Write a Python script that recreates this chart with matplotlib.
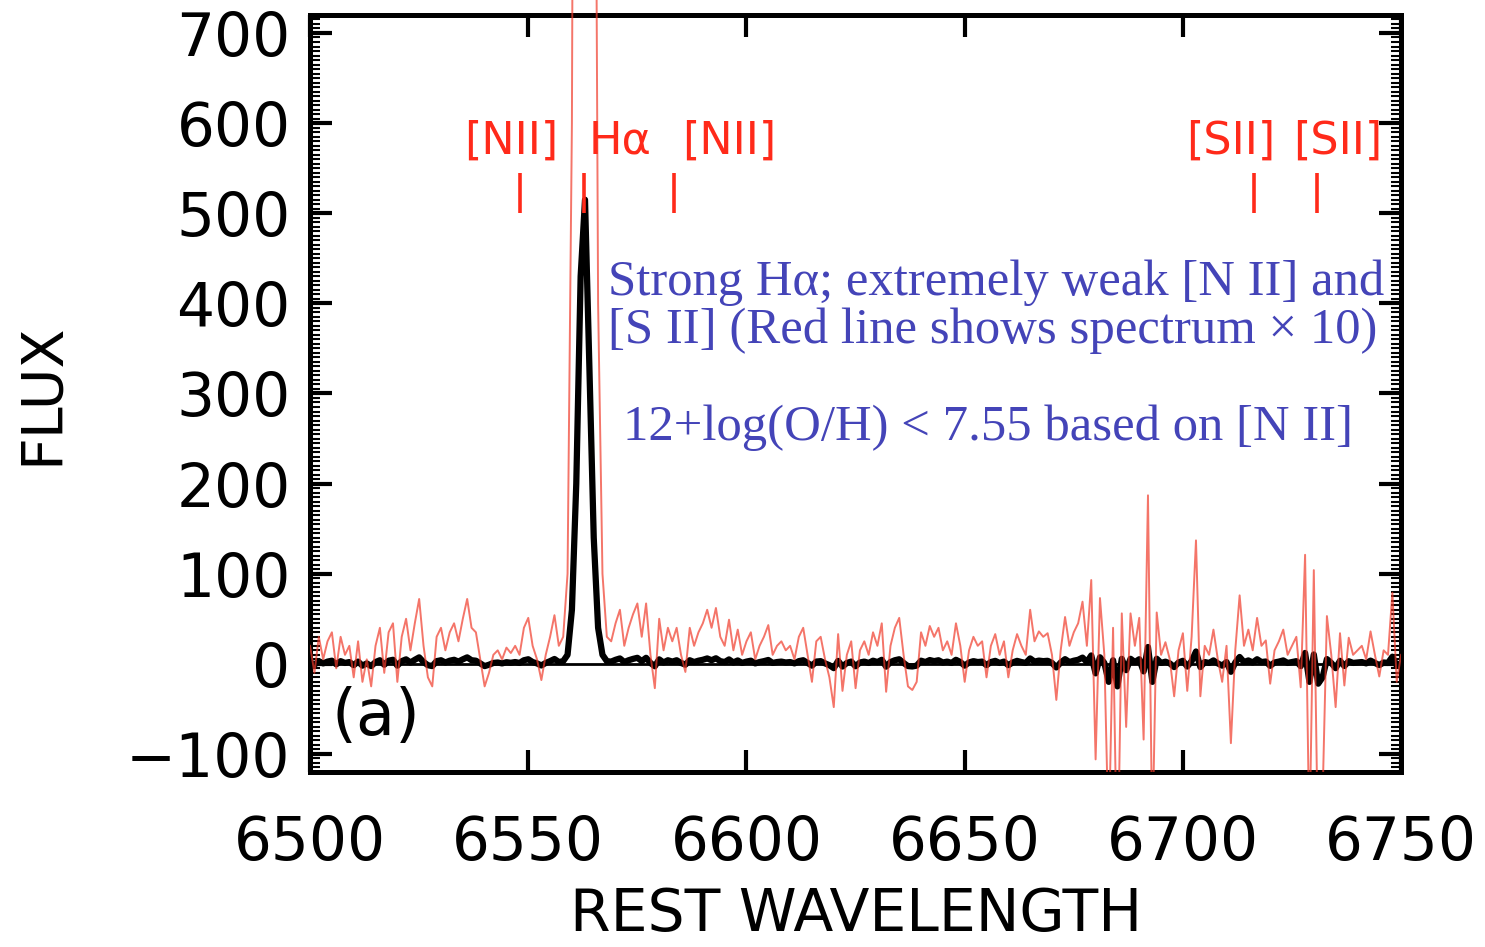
import numpy as np
import matplotlib
matplotlib.use("Agg")
import matplotlib.pyplot as plt
from matplotlib.patches import Rectangle
from matplotlib.ticker import MultipleLocator

# rest wavelength grid, 1 A steps
wave = np.arange(6500, 6751)

# flux (black); red line is flux x 10
flux = np.array([
    2.0, -1.0, 3.0, 0.5, 2.5, 3.5, -0.5, 3.0, 1.0, 2.0,        # 6500
    -1.5, 2.5, -2.0, 0.5, -2.5, 2.0, 4.0, -1.0, 3.5, 4.5,      # 6510
    -2.0, 3.0, 5.0, 1.5, 4.5, 7.2, 2.0, -1.5, -2.5, 3.0,       # 6520
    4.0, 1.5, 3.5, 4.5, 2.5, 5.0, 7.2, 4.0, 3.5, 0.5,          # 6530
    -2.5, -1.0, 1.0, 1.5, 0.5, 1.8, 1.2, 2.0, 1.0, 4.0,        # 6540
    5.1, 2.0, 0.5, -1.8, 1.0, 3.0, 5.4, 2.0, 3.0, 10.0,        # 6550
    60.0, 200.0, 430.0, 515.0, 330.0, 140.0, 40.0, 10.0, 3.0, 2.5,  # 6560
    4.5, 6.0, 2.0, 4.0, 5.5, 6.7, 3.0, 6.7, 1.0, -2.7,         # 6570
    5.0, 1.5, 4.0, 2.5, 4.0, 1.0, -0.9, 4.0, 2.0, 3.5,         # 6580
    4.5, 6.0, 4.0, 6.2, 3.0, 2.0, 4.9, 1.5, 3.8, 1.0,          # 6590
    2.5, 3.5, 0.5, 2.0, 3.0, 4.3, 1.0, 2.0, 2.5, 1.5,          # 6600
    2.0, 0.5, 3.0, 4.0, 1.0, -2.0, 2.5, 3.0, 0.5, -1.5,        # 6610
    -4.8, 3.3, -3.0, 1.0, 2.5, -2.7, 1.5, 2.5, 1.0, 3.5,       # 6620
    2.0, 4.5, -3.1, 2.0, 4.0, 5.1, 1.0, -2.5, -2.9, -2.0,      # 6630
    3.5, 2.0, 4.2, 3.0, 4.0, 1.5, 2.5, 1.0, 4.5, 2.0,          # 6640
    -2.0, 1.5, 3.0, 2.0, 2.5, -1.5, 2.0, 3.3, 1.0, 2.5,        # 6650
    -1.5, 1.5, 3.3, 2.0, 1.0, 6.0, 2.5, 3.6, 3.0, 3.4,         # 6660
    1.0, -4.0, 1.5, 5.2, 2.0, 3.5, 4.5, 6.9, 2.0, 9.3,         # 6670
    -10.6, 7.3, 1.0, -20.0, 4.0, -25.0, 5.6, -7.0, 5.6, 2.0,   # 6680
    5.1, -8.4, 18.7, -20.0, 5.7, 1.0, 2.4, 0.5, -3.6, 1.5,     # 6690
    3.4, -3.0, 3.0, 13.7, -3.6, 2.0, 1.0, 3.8, 0.5, -2.0,      # 6700
    2.0, -8.8, 1.5, 7.6, 2.0, 3.8, 1.5, 5.1, 2.0, 2.6,         # 6710
    -2.2, 1.5, 2.5, 3.8, 1.0, 2.0, 3.0, -2.6, 12.1, -20.0,     # 6720
    10.4, -22.0, -15.0, 5.3, 1.0, -4.8, 3.4, -2.4, 2.9, 1.0,   # 6730
    1.5, 2.0, 0.5, 3.6, 1.0, -1.4, 1.5, 1.0, 7.9, -2.0,        # 6740
    1.0,                                                       # 6750
])

# emission line markers
line_waves = [6548.1, 6562.8, 6583.4, 6716.4, 6730.8]
line_names = ["[NII]", "H\u03b1", "[NII]", "[SII]", "[SII]"]
label_x = [6546.0, 6571.0, 6596.0, 6711.0, 6735.5]

note1 = "Strong H\u03b1; extremely weak [N II] and"
note2 = "[S II] (Red line shows spectrum \u00d7 10)"
note3 = "12+log(O/H) < 7.55 based on [N II]"

# ------------------ Plot ----------------------
fig = plt.figure(figsize=(14.85, 9.47), dpi=100)
fig.set_facecolor("white")
ax = fig.add_axes([0.2088, 0.1848, 0.7347, 0.7994])

red = "#ff2a1a"

ax.axhline(0, color="black", lw=2, zorder=1)
ax.plot(wave, flux, color="black", lw=4.5, zorder=2)
red_line, = ax.plot(wave, flux * 10, color="#f03a2a", lw=1.4, alpha=0.7, zorder=3)
# red spectrum runs out past the top of the frame like in the original
red_line.set_clip_path(Rectangle((0, 0), 1, 1.03, transform=ax.transAxes))

# line ids
ax.vlines(line_waves, 500, 545, color=red, lw=2.6, zorder=4)
for xl, name in zip(label_x, line_names):
    ax.text(xl, 580, name, color=red, fontsize=32, ha="center", va="center")

ax.text(6568.3, 423, note1, color="#4444b8", fontsize=36.5,
        family="Liberation Serif", ha="left", va="center")
ax.text(6568.3, 370, note2, color="#4444b8", fontsize=36.5,
        family="Liberation Serif", ha="left", va="center")
ax.text(6571.7, 262, note3, color="#4444b8", fontsize=36.5,
        family="Liberation Serif", ha="left", va="center")

ax.text(0.06, 0.073, "(a)", transform=ax.transAxes, fontsize=46,
        ha="center", va="center")

ax.set_xlim(6500, 6750)
ax.set_ylim(-120, 720)
ax.set_xticks(np.arange(6500, 6751, 50))
ax.set_yticks(np.arange(-100, 701, 100))
ax.yaxis.set_minor_locator(MultipleLocator(5))

ax.tick_params(which="both", direction="in", top=True, right=True,
               labelsize=43)
ax.tick_params(which="major", length=16, width=3)
ax.tick_params(which="minor", length=7, width=1.5)
ax.tick_params(axis="x", pad=30)
ax.tick_params(axis="y", pad=14)
for s in ax.spines.values():
    s.set_linewidth(3.6)

ax.set_xlabel("REST WAVELENGTH", fontsize=42)
ax.set_ylabel("FLUX", fontsize=41)
ax.xaxis.set_label_coords(0.5, -0.15)
ax.yaxis.set_label_coords(-0.22, 0.5)

fig.savefig("out.png", dpi=100, facecolor="white")
